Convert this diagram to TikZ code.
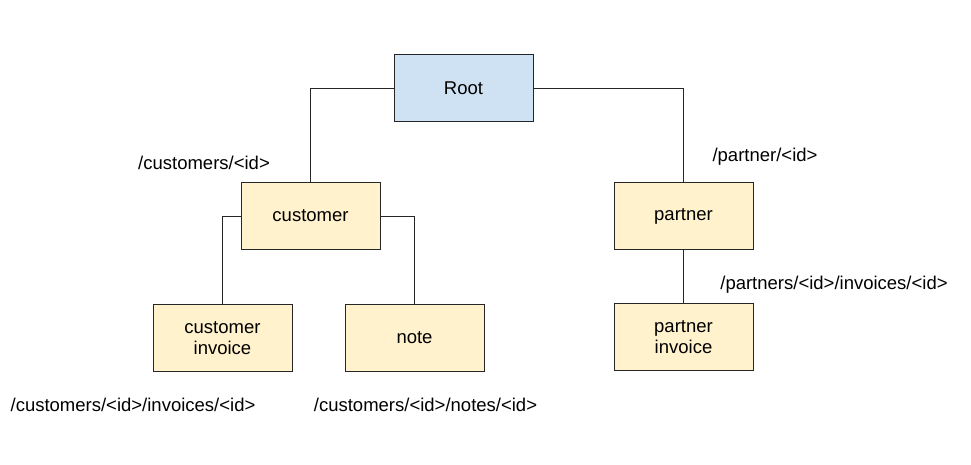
\documentclass[tikz,border=0pt]{standalone}
\usepackage{fontspec}
\setmainfont{Liberation Sans}
\usepackage{xcolor}
\usepackage{tikz}
\usetikzlibrary{positioning, calc}

\definecolor{rootblue}{HTML}{CFE2F3}
\definecolor{entyellow}{HTML}{FFF2CC}

\begin{document}
\begin{tikzpicture}[x=1pt, y=-1pt,
    entity/.style={draw=black!85, line width=1pt, minimum width=139pt, minimum height=67pt,
        align=center, inner sep=0pt, fill=entyellow, font=\fontsize{18.5}{21.5}\selectfont},
    route/.style={inner sep=0pt, font=\fontsize{18.5}{21.5}\selectfont},
    link/.style={draw=black!85, line width=1pt}]
\useasboundingbox (0,0) rectangle (971,465);
% boxes
\node[entity, fill=rootblue] (root) at (463.5,88.5) {Root};
\node[entity] (customer) at (310.5,216) {customer};
\node[entity] (partner) at (683.5,216) {partner};
\node[entity] (custinv) at (222.5,338) {customer\\invoice};
\node[entity] (note) at (414.5,338) {note};
\node[entity] (partinv) at (683.5,337) {partner\\invoice};
% routes
\node[route] (rcust) at (204,163) {/customers/<id>};
\node[route] (rpart) at (765,157) {/partner/<id>};
\node[route] (rpartinv) at (834,285) {/partners/<id>/invoices/<id>};
\node[route] (rcustinv) at (133,405) {/customers/<id>/invoices/<id>};
\node[route] (rnote) at (425.5,405) {/customers/<id>/notes/<id>};
% connectors
\draw[link] (root.west) -| (customer.north);
\draw[link] (root.east) -| (partner.north);
\draw[link] (customer.west) -| (custinv.north);
\draw[link] (customer.east) -| (note.north);
\draw[link] (partner.south) -- (partinv.north);
\end{tikzpicture}
\end{document}
